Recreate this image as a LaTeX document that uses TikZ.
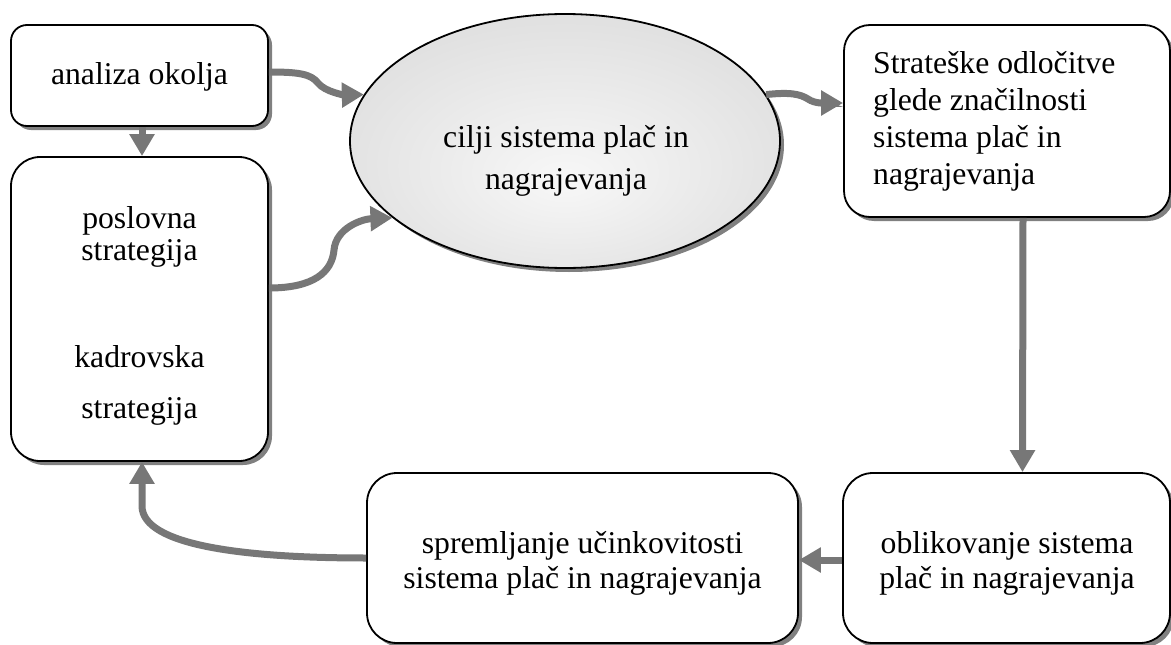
\documentclass[tikz,border=0pt]{standalone}
\usepackage{fontspec}
\setmainfont{Liberation Serif}
\usetikzlibrary{arrows.meta,shapes.geometric,shadows,calc}
\definecolor{arrowgray}{HTML}{777777}
\definecolor{shadowgray}{HTML}{808080}
% soft grey fill of the central ellipse, lighter towards the middle
\pgfdeclareradialshading{ellshade}{\pgfpoint{0bp}{-8bp}}{color(0bp)=(white!97!black); color(50bp)=(black!19)}
\begin{document}
\begin{tikzpicture}[x=1pt,y=-1pt,
  shadowed/.style={drop shadow={shadow xshift=4pt, shadow yshift=-4pt, fill=shadowgray, opacity=1}},
  box/.style={draw=black, line width=1.8pt, fill=white, rounded corners=#1, inner sep=0pt, shadowed},
  lbl/.style={inner sep=0pt, font=\fontsize{31.7}{#1}\selectfont, anchor=base},
  conn/.style={draw=arrowgray, line width=7pt, -{Triangle[length=22pt,width=24pt]}}]
\useasboundingbox (0,0) rectangle (1171,645);

% boxes
\node[box=16pt, minimum width=257pt, minimum height=101pt] (okolje) at (139.5,75.5) {};
\node[box=29pt, minimum width=257pt, minimum height=304pt] (strat) at (139.5,309) {};
\node[ellipse, draw=black, line width=1.8pt, shading=ellshade, minimum width=430pt,
      minimum height=254pt, inner sep=0pt, shadowed] (cilji) at (565,141) {};
\node[box=26pt, minimum width=326pt, minimum height=192pt] (odloc) at (1007,121) {};
\node[box=30pt, minimum width=327pt, minimum height=170pt] (oblik) at (1006.5,558) {};
\node[box=30pt, minimum width=431pt, minimum height=170pt] (sprem) at (582.5,558) {};

% texts (the base anchor of a multi-line text sits on its last line)
\node[lbl=36] (t-okolje) at (139.5,84) {analiza okolja};
\node[lbl=32, align=center] (t-posl) at (139.5,260) {poslovna\\strategija};
\node[lbl=51, align=center] (t-kadr) at (139.5,418) {kadrovska\\strategija};
\node[lbl=42, align=center] (t-cilji) at (566,189) {cilji sistema plač in\\nagrajevanja};
\node[lbl=37, align=left, anchor=base west] (t-odloc) at (873,184)
  {Strateške odločitve\\glede značilnosti\\sistema plač in\\nagrajevanja};
\node[lbl=35, align=center] (t-oblik) at (1007,588) {oblikovanje sistema\\plač in nagrajevanja};
\node[lbl=35, align=center] (t-sprem) at (582.5,588) {spremljanje učinkovitosti\\sistema plač in nagrajevanja};

% connectors
\coordinate (w1) at (318,83);
\coordinate (w2) at (334,250);
\coordinate (w3) at (808,99);
\draw[conn] ($(okolje.east)+(0,-3.5)$) .. controls +(30,0) and (311,74) .. (w1)
  .. controls (325,92) and (345,95) .. (cilji.167);
\draw[conn] ([xshift=2.5pt]okolje.south) -- ([xshift=2.5pt]strat.north);
\draw[conn] ($(strat.east)+(0,-21)$) .. controls +(45,0) and (332,272) .. (w2)
  .. controls (336,228) and (362,219) .. (cilji.204);
\draw[conn] (cilji.13) .. controls (790,92) and (800,94) .. (w3)
  .. controls (815,104) and (826,103) .. ($(odloc.west)+(0,-18)$);
\draw[conn] ([xshift=16pt]odloc.south) -- ([xshift=16pt]oblik.north);
\draw[conn] ([yshift=-2pt]oblik.west) -- ([yshift=-2pt]sprem.east);
\draw[conn] (sprem.west) .. controls +(-120,0) and +(0,40) .. ($(strat.south)+(2.5,44)$)
  -- ($(strat.south)+(2.5,0)$);
\end{tikzpicture}
\end{document}
